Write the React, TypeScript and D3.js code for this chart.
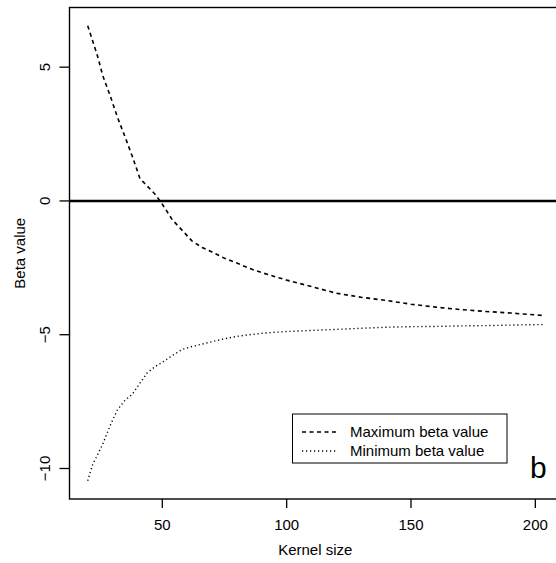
import React from 'react';
import * as d3 from 'd3';

// kernel sizes and the two beta curves
const kernelSizes = [20, 22, 24, 26, 29, 32, 35, 38, 41, 44, 47, 50, 54, 58, 62, 66, 70, 75, 80, 85, 90, 95, 100, 110, 120, 130, 140, 150, 160, 170, 180, 190, 203];
const maxBeta = [6.55, 5.98, 5.40, 4.70, 3.94, 3.12, 2.40, 1.65, 0.84, 0.55, 0.26, -0.12, -0.70, -1.10, -1.50, -1.74, -1.91, -2.14, -2.32, -2.52, -2.68, -2.82, -2.96, -3.20, -3.45, -3.60, -3.72, -3.86, -3.97, -4.06, -4.13, -4.19, -4.28];
const minBeta = [-10.46, -9.85, -9.48, -9.10, -8.40, -7.80, -7.45, -7.22, -6.81, -6.42, -6.20, -6.03, -5.78, -5.55, -5.44, -5.35, -5.26, -5.15, -5.06, -5.00, -4.95, -4.91, -4.88, -4.84, -4.80, -4.76, -4.72, -4.70, -4.69, -4.67, -4.66, -4.64, -4.62];
const xTicks = [50, 100, 150, 200];
const yTicks = [5, 0, -5, -10];
const legendLabels = ['Maximum beta value', 'Minimum beta value'];

const width = 556, height = 563;
const left = 69.5, top = 7.5, right = 561, bottom = 499;
const font = 'Liberation Sans, Arial, Helvetica, sans-serif';

function pad(lo: number, hi: number) {
  const w = hi - lo;
  return [lo - 0.04 * w, hi + 0.04 * w];
}

export default function App() {
  const allY = maxBeta.concat(minBeta);
  const x = d3.scaleLinear()
    .domain(pad(d3.min(kernelSizes)!, d3.max(kernelSizes)!))
    .range([left, right]);
  const y = d3.scaleLinear()
    .domain(pad(d3.min(allY)!, d3.max(allY)!))
    .range([bottom, top]);

  const line = d3.line<number>()
    .x((d, i) => x(kernelSizes[i]))
    .y(d => y(d));

  const series = [
    { values: maxBeta, dash: '4,3.5', width: 1.6 },
    { values: minBeta, dash: '1.2,2.8', width: 1.4 },
  ];

  return (
    <svg width={width} height={height} style={{ position: 'absolute', left: 0, top: 0 }}
      fontFamily={font}>
      <rect width={width} height={height} fill="white" />
      <defs>
        <clipPath id="plot">
          <rect x={left} y={top} width={right - left} height={bottom - top} />
        </clipPath>
      </defs>

      <g clipPath="url(#plot)">
        <line x1={left} x2={right} y1={y(0)} y2={y(0)} stroke="black" strokeWidth={2.6} />
        {series.map((s, i) => (
          <path key={i} d={line(s.values) || ''} fill="none" stroke="black"
            strokeWidth={s.width} strokeDasharray={s.dash} />
        ))}
      </g>

      {/* box */}
      <rect x={left} y={top} width={right - left} height={bottom - top}
        fill="none" stroke="black" strokeWidth={1.4} />

      {/* x axis */}
      {xTicks.map(t => (
        <g key={t}>
          <line x1={x(t)} x2={x(t)} y1={bottom} y2={bottom + 9} stroke="black" strokeWidth={1.3} />
          <text x={x(t)} y={530} fontSize={15} textAnchor="middle">{t}</text>
        </g>
      ))}
      <text x={(left + right) / 2} y={555} fontSize={15} textAnchor="middle">Kernel size</text>

      {/* y axis */}
      {yTicks.map(t => (
        <g key={t}>
          <line x1={left - 10} x2={left} y1={y(t)} y2={y(t)} stroke="black" strokeWidth={1.3} />
          <text transform={`translate(50,${y(t)}) rotate(-90)`} fontSize={15} textAnchor="middle">
            {t < 0 ? '\u2212' + Math.abs(t) : t}
          </text>
        </g>
      ))}
      <text transform={`translate(25,${(top + bottom) / 2}) rotate(-90)`} fontSize={15}
        textAnchor="middle">Beta value</text>

      {/* legend */}
      <rect x={292.5} y={414} width={214.5} height={49} fill="white" stroke="black" strokeWidth={1} />
      {legendLabels.map((lab, i) => (
        <g key={lab}>
          <line x1={302} x2={336} y1={432 + i * 19} y2={432 + i * 19} stroke="black"
            strokeWidth={series[i].width} strokeDasharray={series[i].dash} />
          <text x={350} y={437 + i * 19} fontSize={15}>{lab}</text>
        </g>
      ))}

      <text x={530} y={478} fontSize={30}>b</text>
    </svg>
  );
}
